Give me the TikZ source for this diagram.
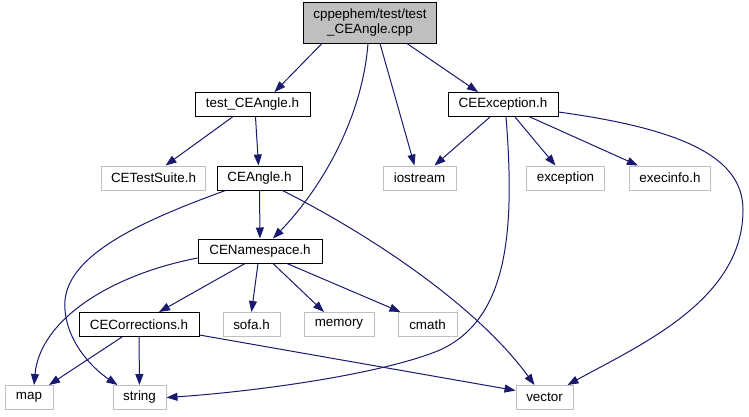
\documentclass[tikz,border=0pt]{standalone}
\usepackage{fontspec}
\setmainfont{Liberation Sans}
\usepackage{xcolor}
\usepackage{tikz}
\usetikzlibrary{positioning,arrows.meta}

\definecolor{edgeblue}{HTML}{191970}
\definecolor{boxgray}{HTML}{BFBFBF}

\begin{document}
\begin{tikzpicture}[x=1pt, y=-1pt,
  every node/.style={rectangle, draw, line width=1pt, font=\fontsize{13.4}{15.5}\selectfont, inner xsep=10pt, inner ysep=2pt, minimum height=24pt},
  hdr/.style={draw=black},
  sys/.style={draw=boxgray},
  dep/.style={draw=edgeblue, line width=1pt, -{Triangle[length=11pt,width=8pt]}}]
\useasboundingbox (0,0) rectangle (749,416);
\node[hdr, fill=boxgray, minimum width=127pt, minimum height=41pt, align=center] (root) at (370,22.5) {cppephem/test/test\\\_CEAngle.cpp};
\node[hdr, minimum width=115pt] (tce) at (252.5,104.5) {test\_CEAngle.h};
\node[hdr, minimum width=110pt] (cex) at (503,104.5) {CEException.h};
\node[sys, minimum width=79pt] (cts) at (153.5,178) {CETestSuite.h};
\node[hdr, minimum width=85pt] (cea) at (259.5,178) {CEAngle.h};
\node[sys, minimum width=73pt] (ios) at (419.5,178) {iostream};
\node[sys, minimum width=69pt] (exc) at (565.5,178) {exception};
\node[sys, minimum width=74pt] (exi) at (670,178) {execinfo.h};
\node[hdr, minimum width=124pt] (cns) at (260,251) {CENamespace.h};
\node[hdr, minimum width=120pt] (ccr) at (139,324.5) {CECorrections.h};
\node[sys, minimum width=57pt] (sofa) at (251.5,324.5) {sofa.h};
\node[sys, minimum width=70pt] (mem) at (339,324.5) {memory};
\node[sys, minimum width=59pt] (cmath) at (427.5,324.5) {cmath};
\node[sys, minimum width=48pt] (map) at (29,397.5) {map};
\node[sys, minimum width=53pt] (str) at (139.5,397.5) {string};
\node[sys, minimum width=57pt] (vec) at (544.5,397.5) {vector};
% includes of the test file
\draw[dep] ([xshift=-48pt]root.south) -- ([xshift=22pt]tce.north);
\draw[dep] ([xshift=-2pt]root.south) .. controls (362,120) and (320,190) .. ([xshift=13pt]cns.north);
\draw[dep] ([xshift=10pt]root.south) -- ([xshift=-5pt]ios.north);
\draw[dep] ([xshift=37pt]root.south) -- ([xshift=-25pt]cex.north);
% test_CEAngle.h
\draw[dep] ([xshift=-20pt]tce.south) -- ([xshift=12pt]cts.north);
\draw[dep] ([xshift=3pt]tce.south) -- ([xshift=-1pt]cea.north);
% CEException.h
\draw[dep] ([xshift=-13pt]cex.south) -- ([xshift=15pt]ios.north);
\draw[dep] ([xshift=12pt]cex.south) -- ([xshift=-10pt]exc.north);
\draw[dep] ([xshift=27pt]cex.south) -- ([xshift=-32pt]exi.north);
\draw[dep] ([yshift=-7.5pt]cex.east) .. controls (690,130) and (743,160) .. (743,210)
  .. controls (743,300) and (640,345) .. ([xshift=23pt]vec.north);
\draw[dep] ([xshift=3pt]cex.south) .. controls (516,240) and (505,320) .. (440,350)
  .. controls (380,375) and (250,392) .. (str.east);
% CEAngle.h
\draw[dep] (cea) -- (cns);
\draw[dep] ([xshift=-34pt]cea.south) .. controls (130,225) and (60,260) .. (65,310)
  .. controls (68,345) and (95,370) .. ([xshift=-22pt]str.north);
\draw[dep] ([xshift=23pt]cea.south) .. controls (380,240) and (480,310) .. ([xshift=-10pt]vec.north);
% CENamespace.h
\draw[dep] ([yshift=-7pt]cns.west) .. controls (110,275) and (40,320) .. ([xshift=5pt]map.north);
\draw[dep] ([xshift=-15pt]cns.south) -- ([xshift=20pt]ccr.north);
\draw[dep] ([xshift=-2pt]cns.south) -- (sofa.north);
\draw[dep] ([xshift=13pt]cns.south) -- ([xshift=-15pt]mem.north);
\draw[dep] ([xshift=27pt]cns.south) -- ([xshift=-27pt]cmath.north);
% CECorrections.h
\draw[dep] ([xshift=-17pt]ccr.south) -- ([xshift=20pt]map.north);
\draw[dep] (ccr) -- (str);
\draw[dep] ([yshift=2pt]ccr.south east) -- ([yshift=7pt]vec.west);
\end{tikzpicture}
\end{document}
